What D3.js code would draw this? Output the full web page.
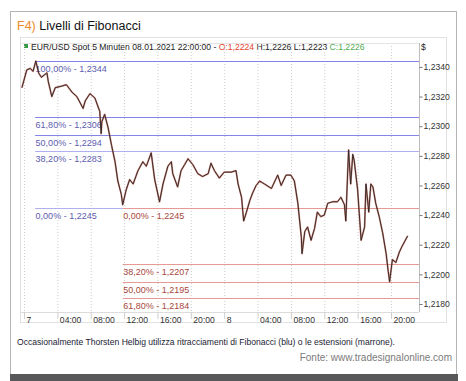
<!DOCTYPE html>
<html>
<head>
<meta charset="utf-8">
<script src="https://cdn.jsdelivr.net/npm/d3@7"></script>
<style>
  body { margin: 0; background: #fff; }
  svg { display: block; font-family: "Liberation Sans", Arial, sans-serif; }
</style>
</head>
<body>
<div id="chart-container"></div>
<script>
// EUR/USD 5 min (hand-picked turning points)
const times = [
  '2021-01-06T23:45', '2021-01-07T00:20', '2021-01-07T00:45', '2021-01-07T01:05', '2021-01-07T01:25',
  '2021-01-07T01:45', '2021-01-07T02:05', '2021-01-07T02:45', '2021-01-07T02:55', '2021-01-07T03:20',
  '2021-01-07T03:45', '2021-01-07T04:30', '2021-01-07T05:05', '2021-01-07T05:45', '2021-01-07T06:20',
  '2021-01-07T07:05', '2021-01-07T07:20', '2021-01-07T07:55', '2021-01-07T08:30', '2021-01-07T09:05',
  '2021-01-07T09:15', '2021-01-07T09:20', '2021-01-07T09:40', '2021-01-07T10:05', '2021-01-07T10:30',
  '2021-01-07T10:55', '2021-01-07T11:15', '2021-01-07T11:40', '2021-01-07T11:50', '2021-01-07T12:15',
  '2021-01-07T12:40', '2021-01-07T13:05', '2021-01-07T13:40', '2021-01-07T14:15', '2021-01-07T14:40',
  '2021-01-07T15:15', '2021-01-07T15:40', '2021-01-07T16:15', '2021-01-07T16:40', '2021-01-07T17:15',
  '2021-01-07T17:40', '2021-01-07T17:50', '2021-01-07T18:25', '2021-01-07T18:50', '2021-01-07T19:15',
  '2021-01-07T19:40', '2021-01-07T20:15', '2021-01-07T20:50', '2021-01-07T21:25', '2021-01-07T22:05',
  '2021-01-07T22:25', '2021-01-07T22:50', '2021-01-07T23:25', '2021-01-08T00:00', '2021-01-08T00:50',
  '2021-01-08T01:25', '2021-01-08T01:40', '2021-01-08T02:05', '2021-01-08T02:20', '2021-01-08T02:40',
  '2021-01-08T03:05', '2021-01-08T03:25', '2021-01-08T03:50', '2021-01-08T04:15', '2021-01-08T04:50',
  '2021-01-08T05:40', '2021-01-08T06:25', '2021-01-08T06:50', '2021-01-08T07:25', '2021-01-08T08:00',
  '2021-01-08T08:25', '2021-01-08T08:50', '2021-01-08T09:15', '2021-01-08T09:20', '2021-01-08T09:40',
  '2021-01-08T10:00', '2021-01-08T10:25', '2021-01-08T10:50', '2021-01-08T11:10', '2021-01-08T11:35',
  '2021-01-08T12:00', '2021-01-08T12:25', '2021-01-08T13:00', '2021-01-08T13:35', '2021-01-08T14:00',
  '2021-01-08T14:25', '2021-01-08T14:35', '2021-01-08T14:50', '2021-01-08T14:55', '2021-01-08T15:10',
  '2021-01-08T15:25', '2021-01-08T15:35', '2021-01-08T16:00', '2021-01-08T16:25', '2021-01-08T16:50',
  '2021-01-08T17:00', '2021-01-08T17:20', '2021-01-08T17:35', '2021-01-08T17:50', '2021-01-08T18:10',
  '2021-01-08T18:35', '2021-01-08T19:00', '2021-01-08T19:25', '2021-01-08T19:40', '2021-01-08T19:50',
  '2021-01-08T20:10', '2021-01-08T20:35', '2021-01-08T21:00', '2021-01-08T21:20', '2021-01-08T22:00'
]
const prices = [
  1.2326, 1.2338, 1.2339, 1.2337, 1.2344,
  1.2336, 1.2333, 1.2336, 1.2330, 1.2320,
  1.2326, 1.2327, 1.2328, 1.2323, 1.2320,
  1.2312, 1.2317, 1.2322, 1.2319, 1.2310,
  1.2295, 1.2303, 1.2308, 1.2299, 1.2287,
  1.2276, 1.2263, 1.2254, 1.2247, 1.2257,
  1.2264, 1.2261, 1.2270, 1.2276, 1.2273,
  1.2282, 1.2264, 1.2249, 1.2261, 1.2273,
  1.2276, 1.2268, 1.2259, 1.2270, 1.2274,
  1.2278, 1.2274, 1.2268, 1.2266, 1.2268,
  1.2275, 1.2270, 1.2265, 1.2269, 1.2269,
  1.2270, 1.2261, 1.2252, 1.2236, 1.2242,
  1.2250, 1.2255, 1.2260, 1.2263, 1.2261,
  1.2258, 1.2267, 1.2260, 1.2267, 1.2267,
  1.2263, 1.2248, 1.2225, 1.2214, 1.2229,
  1.2232, 1.2223, 1.2231, 1.2242, 1.2239,
  1.2240, 1.2248, 1.2249, 1.2249, 1.2252,
  1.2247, 1.2236, 1.2273, 1.2284, 1.2261,
  1.2281, 1.2277, 1.2257, 1.2223, 1.2232,
  1.2261, 1.2242, 1.2261, 1.2259, 1.2248,
  1.2239, 1.2228, 1.2214, 1.2202, 1.2195,
  1.2210, 1.2208, 1.2215, 1.2219, 1.2226
]

// Fibonacci retracements (blue) and extensions (brown)
const retraceLabels = ['100,00%', '61,80%', '50,00%', '38,20%', '0,00%']
const retraceValues = [1.2344, 1.2306, 1.2294, 1.2283, 1.2245]
const extensionLabels = ['0,00%', '38,20%', '50,00%', '61,80%']
const extensionValues = [1.2245, 1.2207, 1.2195, 1.2184]
const retraceStart = '2021-01-07T01:20'
const extensionStart = '2021-01-07T11:50'

const yTicks = [1.2180, 1.2200, 1.2220, 1.2240, 1.2260, 1.2280, 1.2300, 1.2320, 1.2340]
const xTicks = [
  '2021-01-07T00:00', '2021-01-07T04:00', '2021-01-07T08:00', '2021-01-07T12:00', '2021-01-07T16:00', '2021-01-07T20:00',
  '2021-01-08T00:00', '2021-01-08T04:00', '2021-01-08T08:00', '2021-01-08T12:00', '2021-01-08T16:00', '2021-01-08T20:00'
]

const width = 466, height = 381
const parseTime = d3.utcParse('%Y-%m-%dT%H:%M')
const fmtPrice = v => d3.format('.4f')(v).replace('.', ',')
const fmtTick = d => d.getUTCHours() === 0 ? String(d.getUTCDate()) : d3.utcFormat('%H:%M')(d)

const plotLeft = 20, plotRight = 419, plotTop = 43, plotBottom = 312

const x = d3.scaleUtc()
  .domain([parseTime('2021-01-07T00:00'), parseTime('2021-01-08T20:00')])
  .range([24, 391])
const y = d3.scaleLinear()
  .domain([1.2180, 1.2344])
  .range([304, 61])

const svg = d3.select('#chart-container')
  .append('svg')
  .attr('width', width)
  .attr('height', height)
  .attr('viewBox', '0 0 ' + width + ' ' + height)

// outer frame + bottom bar
svg.append('rect')
  .attr('x', 10.5).attr('y', 11.5)
  .attr('width', 446).attr('height', 364)
  .attr('fill', 'none').attr('stroke', '#b5b5b5')
svg.append('rect')
  .attr('x', 10).attr('y', 374)
  .attr('width', 448).attr('height', 7)
  .attr('fill', '#58585a')

// title
const title = svg.append('text')
  .attr('x', 17).attr('y', 30)
  .attr('font-size', 12.5)
title.append('tspan').attr('fill', '#ef8a2a').text('F4) ')
title.append('tspan').attr('fill', '#111').text('Livelli di Fibonacci')

// chart panel
svg.append('rect')
  .attr('x', 20.5).attr('y', 37.5)
  .attr('width', 426).attr('height', 285)
  .attr('fill', 'none').attr('stroke', '#e2e2e2')

// header line
svg.append('rect')
  .attr('x', 24).attr('y', 44)
  .attr('width', 4).attr('height', 4)
  .attr('fill', '#3a9a4a')
const header = svg.append('text')
  .attr('x', 31).attr('y', 50)
  .attr('font-size', 8.6)
  .attr('fill', '#222')
header.append('tspan').text('EUR/USD Spot 5 Minuten  08.01.2021 22:00:00 - ')
header.append('tspan').attr('fill', '#e5412d').text('O:1,2224')
header.append('tspan').text(' H:1,2226 L:1,2223 ')
header.append('tspan').attr('fill', '#4caa4c').text('C:1,2226')
svg.append('text')
  .attr('x', 421).attr('y', 50)
  .attr('font-size', 8.6)
  .attr('fill', '#222')
  .text('$')

// vertical dotted grid
svg.append('g')
  .selectAll('line')
  .data(xTicks)
  .enter()
  .append('line')
  .attr('x1', d => x(parseTime(d)) + 0.5)
  .attr('x2', d => x(parseTime(d)) + 0.5)
  .attr('y1', plotTop)
  .attr('y2', plotBottom)
  .attr('stroke', '#cfcfcf')
  .attr('stroke-dasharray', '1,2')

// plot border lines
svg.append('line')
  .attr('x1', plotLeft).attr('x2', plotRight)
  .attr('y1', plotTop + 0.5).attr('y2', plotTop + 0.5)
  .attr('stroke', '#e4e4e4')
svg.append('line')
  .attr('x1', plotLeft).attr('x2', plotRight)
  .attr('y1', plotBottom + 0.5).attr('y2', plotBottom + 0.5)
  .attr('stroke', '#dcdcdc')

// right axis
const yAxis = d3.axisRight(y)
  .tickValues(yTicks)
  .tickFormat(fmtPrice)
  .tickSize(3)
  .tickPadding(1)
  .tickSizeOuter(0)
const yg = svg.append('g')
  .attr('transform', 'translate(' + (plotRight + 0.5) + ',0)')
  .call(yAxis)
yg.select('.domain').attr('d', 'M0,' + plotTop + 'V' + plotBottom).attr('stroke', '#bdbdbd')
yg.selectAll('line').attr('stroke', '#777')
yg.selectAll('text').attr('font-size', 8.6).attr('fill', '#333').attr('font-family', '"Liberation Sans", Arial, sans-serif')

// bottom axis
const xAxis = d3.axisBottom(x)
  .tickValues(xTicks.map(parseTime))
  .tickFormat(fmtTick)
  .tickSize(7)
  .tickSizeOuter(0)
const xg = svg.append('g')
  .attr('transform', 'translate(0,' + plotBottom + ')')
  .call(xAxis)
xg.select('.domain').remove()
xg.selectAll('line').attr('stroke', '#cfcfcf')
xg.selectAll('text')
  .attr('text-anchor', 'start')
  .attr('x', 2)
  .attr('y', 5)
  .attr('dy', '0.71em')
  .attr('font-size', 8.6)
  .attr('fill', '#333')
  .attr('font-family', '"Liberation Sans", Arial, sans-serif')

// Fibonacci retracement lines
const rStart = x(parseTime(retraceStart))
const eStart = x(parseTime(extensionStart))
const fib = svg.append('g')
retraceValues.forEach((v, i) => {
  const isZero = i === retraceValues.length - 1
  fib.append('line')
    .attr('x1', rStart).attr('x2', isZero ? eStart : plotRight)
    .attr('y1', Math.round(y(v)) + 0.5).attr('y2', Math.round(y(v)) + 0.5)
    .attr('stroke', i === 3 || isZero ? '#b0b0f0' : '#8484e4')
    .attr('stroke-width', 1)
  fib.append('text')
    .attr('x', rStart + 0.5).attr('y', y(v) + 11)
    .attr('font-size', 9)
    .attr('fill', '#5d5dae')
    .text(retraceLabels[i] + ' - ' + fmtPrice(v))
})
extensionValues.forEach((v, i) => {
  fib.append('line')
    .attr('x1', eStart).attr('x2', plotRight)
    .attr('y1', Math.round(y(v)) + 0.5).attr('y2', Math.round(y(v)) + 0.5)
    .attr('stroke', '#e59a94')
    .attr('stroke-width', 1)
  fib.append('text')
    .attr('x', eStart + 0.5).attr('y', y(v) + 11)
    .attr('font-size', 9)
    .attr('fill', '#a8463c')
    .text(extensionLabels[i] + ' - ' + fmtPrice(v))
})

// price line (candles shown as a dark line with a reddish rim)
const series = times.map((t, i) => ({ t: parseTime(t), v: prices[i] }))
const line = d3.line()
  .x(d => x(d.t))
  .y(d => y(d.v))
svg.append('path')
  .datum(series)
  .attr('d', line)
  .attr('fill', 'none')
  .attr('stroke', '#c0584a')
  .attr('stroke-opacity', 0.7)
  .attr('stroke-width', 1.8)
  .attr('stroke-linejoin', 'round')
svg.append('path')
  .datum(series)
  .attr('d', line)
  .attr('fill', 'none')
  .attr('stroke', '#262422')
  .attr('stroke-width', 0.9)
  .attr('stroke-linejoin', 'round')

// caption
svg.append('text')
  .attr('x', 17).attr('y', 345)
  .attr('font-size', 9.5)
  .attr('fill', '#1b1b33')
  .attr('textLength', 378)
  .attr('lengthAdjust', 'spacingAndGlyphs')
  .text('Occasionalmente Thorsten Helbig utilizza ritracciamenti di Fibonacci (blu) o le estensioni (marrone).')
svg.append('text')
  .attr('x', 452).attr('y', 361)
  .attr('text-anchor', 'end')
  .attr('font-size', 10)
  .attr('fill', '#7a7a7a')
  .text('Fonte: www.tradesignalonline.com')
</script>
</body>
</html>
